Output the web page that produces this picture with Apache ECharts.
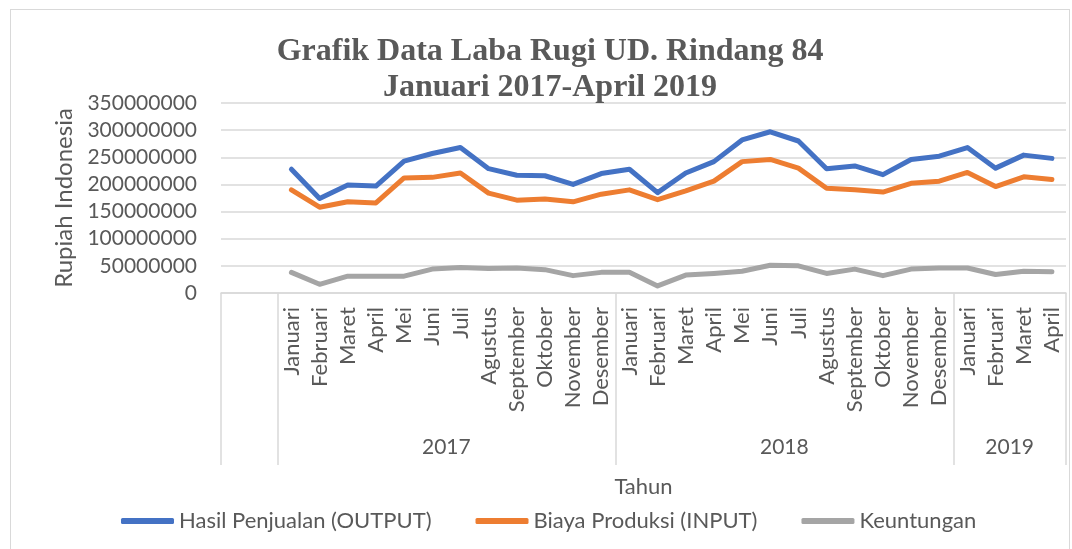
<!DOCTYPE html>
<html>
<head>
<meta charset="utf-8">
<script src="https://cdn.jsdelivr.net/npm/echarts@6/dist/echarts.min.js"></script>
<style>
body{margin:0;background:#fff;}
#main{width:1072px;height:549px;}
#frame{position:absolute;left:10px;top:9px;width:1058px;height:560px;border:1px solid #d9d9d9;pointer-events:none;}
</style>
</head>
<body>
<div id="main"></div>
<div id="frame"></div>
<script>
/*data laba rugi, Januari 2017 - April 2019*/
var bulan = ['Januari','Februari','Maret','April','Mei','Juni','Juli','Agustus','September','Oktober','November','Desember',
	'Januari','Februari','Maret','April','Mei','Juni','Juli','Agustus','September','Oktober','November','Desember',
	'Januari','Februari','Maret','April'];
var tahun = ['2017','2018','2019'];
var jumlahBulan = [12, 12, 4];
var kosong = 2; // dua kategori kosong di depan
var hasilPenjualan = [228000000,174000000,199000000,197000000,243000000,257000000,268000000,229000000,217000000,216000000,200000000,220000000,
	228000000,185000000,221000000,242000000,282000000,297000000,280000000,229000000,234000000,218000000,246000000,252000000,
	268000000,230000000,254000000,248000000];
var biayaProduksi = [190000000,158000000,168000000,166000000,212000000,213000000,221000000,184000000,171000000,173000000,168000000,182000000,
	190000000,172000000,188000000,206000000,242000000,246000000,230000000,193000000,190000000,186000000,202000000,206000000,
	222000000,196000000,214000000,209000000];
var keuntungan = [38000000,16000000,31000000,31000000,31000000,44000000,47000000,45000000,46000000,43000000,32000000,38000000,
	38000000,13000000,33000000,36000000,40000000,51000000,50000000,36000000,44000000,32000000,44000000,46000000,
	46000000,34000000,40000000,39000000];
var yTicks = [0, 50000000, 350000000];

var font = 'Lato';
var abu = '#595959';
var garis = '#d9d9d9';

function pad(arr){
	var out = [];
	for (var i = 0; i < kosong; i++) out.push(typeof arr[0] === 'string' ? '' : null);
	return out.concat(arr);
}
// batas kelompok tahun (index kategori)
var batas = [0];
var tengahTahun = {};
var pos = kosong;
for (var t = 0; t < tahun.length; t++){
	batas.push(pos);
	tengahTahun[pos + jumlahBulan[t] / 2] = tahun[t];
	pos += jumlahBulan[t];
}
var total = pos;

var option = {
	color: ['#4472C4', '#ED7D31', '#A5A5A5'],
	title: {
		text: 'Grafik Data Laba Rugi UD. Rindang 84\nJanuari 2017-April 2019',
		left: 545,
		textAlign: 'center',
		top: 29,
		textStyle: {fontFamily: 'Liberation Serif', fontWeight: 'bold', fontSize: 32, color: abu, lineHeight: 36}
	},
	legend: {
		top: 505,
		left: 116,
		icon: 'roundRect',
		itemWidth: 53,
		itemHeight: 6,
		itemGap: 44,
		itemStyle: {borderWidth: 0},
		textStyle: {fontFamily: font, fontSize: 22, color: abu}
	},
	grid: {left: 221, right: 6, top: 103, bottom: 256, containLabel: false},
	xAxis: [
		{
			type: 'category',
			data: pad(bulan),
			boundaryGap: true,
			axisLine: {lineStyle: {color: garis, width: 1.5}},
			axisTick: {
				show: true,
				interval: function(i){ return batas.indexOf(i) >= 0; },
				length: 172,
				lineStyle: {color: garis, width: 1.5}
			},
			axisLabel: {interval: 0, rotate: 90, margin: 14, fontFamily: font, fontSize: 22, color: abu}
		},
		{
			type: 'value',
			position: 'bottom',
			min: 0,
			max: total,
			interval: 1,
			name: 'Tahun',
			nameLocation: 'middle',
			nameGap: 183,
			nameTextStyle: {fontFamily: font, fontSize: 22, color: abu},
			axisLine: {show: false},
			axisTick: {show: false},
			splitLine: {show: false},
			axisLabel: {
				margin: 144,
				fontFamily: font, fontSize: 21, color: abu,
				formatter: function(v){ return tengahTahun[v] || ''; }
			}
		}
	],
	yAxis: {
		type: 'value',
		min: yTicks[0],
		max: yTicks[2],
		interval: yTicks[1],
		name: 'Rupiah Indonesia',
		nameLocation: 'middle',
		nameGap: 143,
		nameTextStyle: {fontFamily: font, fontSize: 24, color: abu},
		axisLine: {show: false},
		axisTick: {show: false},
		splitLine: {lineStyle: {color: garis, width: 1.5}},
		axisLabel: {margin: 24, fontFamily: font, fontSize: 21, color: abu, formatter: function(v){ return String(v); }}
	},
	series: [
		{name: 'Hasil Penjualan (OUTPUT)', type: 'line', data: pad(hasilPenjualan), showSymbol: false, symbol: 'none', lineStyle: {width: 5, cap: 'round', join: 'round'}},
		{name: 'Biaya Produksi (INPUT)', type: 'line', data: pad(biayaProduksi), showSymbol: false, symbol: 'none', lineStyle: {width: 5, cap: 'round', join: 'round'}},
		{name: 'Keuntungan', type: 'line', data: pad(keuntungan), showSymbol: false, symbol: 'none', lineStyle: {width: 5, cap: 'round', join: 'round'}}
	]
};
echarts.init(document.getElementById('main')).setOption(option);
</script>
</body>
</html>
